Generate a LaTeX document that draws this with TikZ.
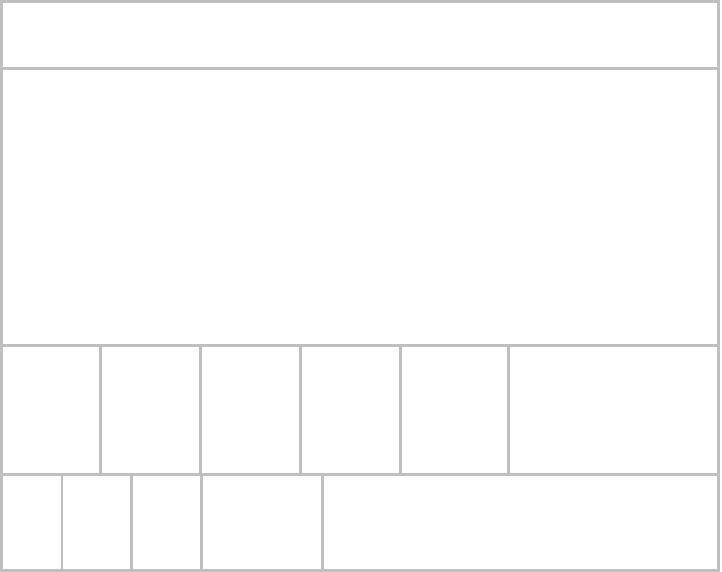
\documentclass[tikz,border=0pt]{standalone}
\begin{document}
\begin{tikzpicture}[x=1pt,y=-1pt,grid/.style={draw=black!25,line width=2.6pt}]
\useasboundingbox (0,0) rectangle (722,572);
\fill[white] (0,0) rectangle (722,572);
% outer frame
\draw[grid] (1.5,1.5) rectangle (718.5,570.5);
% horizontal dividers
\draw[grid] (1.5,68.5) -- (718.5,68.5);
\draw[grid] (1.5,345.5) -- (718.5,345.5);
\draw[grid] (1.5,474.5) -- (718.5,474.5);
% third row dividers
\foreach \x in {100.5,200.5,300.5,400.5,508.5}
  \draw[grid] (\x,345.5) -- (\x,474.5);
% bottom row dividers
\foreach \x in {62,131.5,201.5,322.5}
  \draw[grid] (\x,474.5) -- (\x,570.5);
\end{tikzpicture}
\end{document}
